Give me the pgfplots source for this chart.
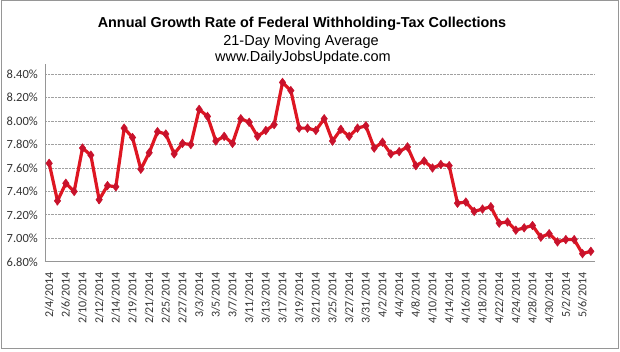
\documentclass[border=0pt]{standalone}
\usepackage{fontspec}
\setmainfont{Liberation Sans}
\newfontfamily\carlito{Carlito}
\usepackage{pgfplots}
\pgfplotsset{compat=1.18}
\definecolor{linered}{RGB}{222,22,34}
\definecolor{markred}{RGB}{200,18,44}
\definecolor{gridgray}{RGB}{160,160,160}
\definecolor{axisgray}{RGB}{150,150,150}
\newcommand{\T}[1]{\mbox{\carlito #1}}
\begin{document}
\begin{tikzpicture}[x=1pt,y=1pt]
\path[use as bounding box] (0,0) rectangle (620,351);
\draw[draw=axisgray, line width=0.9pt] (1,3) rectangle (618.5,350.5);
\node[font=\bfseries\fontsize{14.4}{16}\selectfont] at (302,327.5) {Annual Growth Rate of Federal Withholding-Tax Collections};
\node[font=\fontsize{14.5}{16}\selectfont] at (301,309.5) {21-Day Moving Average};
\node[font=\fontsize{14.5}{16}\selectfont] at (303,293) {www.DailyJobsUpdate.com};
\begin{axis}[
  at={(54,76)}, anchor=south west,
  scale only axis, width=550pt, height=198pt,
  xmin=-0.5, xmax=65.5, ymin=6.8, ymax=8.488,
  axis x line*=bottom, axis y line*=left,
  axis line style={draw=axisgray, line width=0.9pt},
  major tick length=0pt,
  ytick={6.8,7.0,7.2,7.4,7.6,7.8,8.0,8.2,8.4},
  yticklabels={\T{6.80\%},\T{7.00\%},\T{7.20\%},\T{7.40\%},\T{7.60\%},\T{7.80\%},\T{8.00\%},\T{8.20\%},\T{8.40\%}},
  yticklabel style={font=\carlito\fontsize{12.5}{14}\selectfont, inner sep=0pt, anchor=east, text=black!80},
  yticklabel shift=7pt,
  xtick={0,2,...,64},
  xticklabels={\T{2/4/2014},\T{2/6/2014},\T{2/10/2014},\T{2/12/2014},\T{2/14/2014},\T{2/19/2014},\T{2/21/2014},\T{2/25/2014},\T{2/27/2014},\T{3/3/2014},\T{3/5/2014},\T{3/7/2014},\T{3/11/2014},\T{3/13/2014},\T{3/17/2014},\T{3/19/2014},\T{3/21/2014},\T{3/25/2014},\T{3/27/2014},\T{3/31/2014},\T{4/2/2014},\T{4/4/2014},\T{4/8/2014},\T{4/10/2014},\T{4/14/2014},\T{4/16/2014},\T{4/18/2014},\T{4/22/2014},\T{4/24/2014},\T{4/28/2014},\T{4/30/2014},\T{5/2/2014},\T{5/6/2014}},
  xticklabel style={font=\carlito\fontsize{12}{14}\selectfont, inner sep=0pt, rotate=90, anchor=east, text=black!80},
  xticklabel shift=10pt,
  ymajorgrids,
  grid style={densely dotted, draw=gridgray, line width=0.9pt},
  clip=false,
]
\addplot[color=linered, line width=3.2pt, mark=diamond*, mark size=4.3pt,
  mark options={solid, fill=markred, draw=markred, line width=0.5pt}]
table[row sep=\\] {
x y\\
0 7.64\\ 1 7.32\\ 2 7.47\\ 3 7.40\\ 4 7.77\\ 5 7.71\\ 6 7.33\\ 7 7.45\\ 8 7.44\\ 9 7.94\\
10 7.86\\ 11 7.59\\ 12 7.73\\ 13 7.91\\ 14 7.89\\ 15 7.72\\ 16 7.81\\ 17 7.80\\ 18 8.10\\ 19 8.04\\
20 7.83\\ 21 7.87\\ 22 7.81\\ 23 8.02\\ 24 7.99\\ 25 7.87\\ 26 7.92\\ 27 7.97\\ 28 8.33\\ 29 8.26\\
30 7.94\\ 31 7.94\\ 32 7.92\\ 33 8.02\\ 34 7.83\\ 35 7.93\\ 36 7.87\\ 37 7.94\\ 38 7.96\\ 39 7.77\\
40 7.82\\ 41 7.72\\ 42 7.74\\ 43 7.78\\ 44 7.62\\ 45 7.66\\ 46 7.60\\ 47 7.63\\ 48 7.62\\ 49 7.30\\
50 7.31\\ 51 7.23\\ 52 7.25\\ 53 7.27\\ 54 7.13\\ 55 7.14\\ 56 7.07\\ 57 7.09\\ 58 7.11\\ 59 7.01\\
60 7.04\\ 61 6.97\\ 62 6.99\\ 63 6.99\\ 64 6.87\\ 65 6.89\\
};
\end{axis}
\end{tikzpicture}
\end{document}
